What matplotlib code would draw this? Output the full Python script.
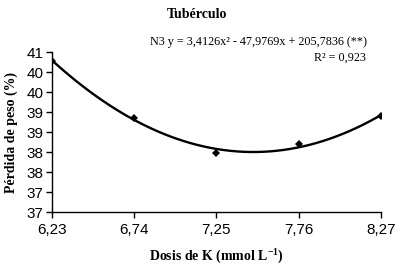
import numpy as np
import matplotlib
matplotlib.use("Agg")
import matplotlib.pyplot as plt

# dosis de K (mmol L-1) y pérdida de peso (%)
dosis = [6.23, 6.74, 7.25, 7.76, 8.27]
dosis_lbl = ["6,23", "6,74", "7,25", "7,76", "8,27"]
perdida = [40.28, 38.86, 37.97, 38.20, 38.90]

yticks = [36.5, 37.0, 37.5, 38.0, 38.5, 39.0, 39.5, 40.0, 40.5]
ytick_lbl = ["37", "37", "38", "38", "39", "39", "40", "40", "41"]

plt.rcParams['mathtext.fontset'] = 'custom'
plt.rcParams['mathtext.rm'] = 'Liberation Serif'
plt.rcParams['mathtext.bf'] = 'Liberation Serif:bold'

fig = plt.figure(figsize=(4.13, 2.73), dpi=100)
ax = fig.add_axes([0.1259, 0.2234, 0.7966, 0.5861])

# linea de tendencia polinomica (orden 2)
coef = np.polyfit(dosis, perdida, 2)
xx = np.linspace(dosis[0], dosis[-1], 200)
ax.plot(xx, np.polyval(coef, xx), '-', color='black', lw=1.7)
ax.plot(dosis, perdida, 'D', color='black', ms=4.5, mew=0)

ax.set_xlim(dosis[0], dosis[-1])
ax.set_ylim(36.5, 40.5)
ax.set_xticks(dosis)
ax.set_xticklabels(dosis_lbl)
ax.set_yticks(yticks)
ax.set_yticklabels(ytick_lbl)
for s in ['top', 'right']:
    ax.spines[s].set_visible(False)
for s in ['left', 'bottom']:
    ax.spines[s].set_linewidth(1.0)
ax.tick_params(length=4, width=1, labelsize=11, pad=2)
for lbl in ax.get_xticklabels() + ax.get_yticklabels():
    lbl.set_family('Liberation Sans')
ax.tick_params(axis='x', pad=4)

ax.set_xlabel(r"Dosis de K (mmol $\mathbf{L^{-1}}$)", family='Liberation Serif',
              fontweight='bold', fontsize=10, labelpad=8)
ax.set_ylabel("Pérdida de peso (%)", family='Liberation Serif',
              fontweight='bold', fontsize=10, labelpad=6)

fig.text(0.477, 0.948, "Tubérculo", family='Liberation Serif', fontweight='bold',
         fontsize=10, ha='center', va='center')
fig.text(0.888, 0.846, "N3 y = 3,4126x² - 47,9769x + 205,7836 (**)",
         family='Liberation Serif', fontsize=8.7, ha='right', va='center')
fig.text(0.886, 0.79, "R² = 0,923", family='Liberation Serif', fontsize=8.7,
         ha='right', va='center')

plt.savefig("out.png", dpi=100)
